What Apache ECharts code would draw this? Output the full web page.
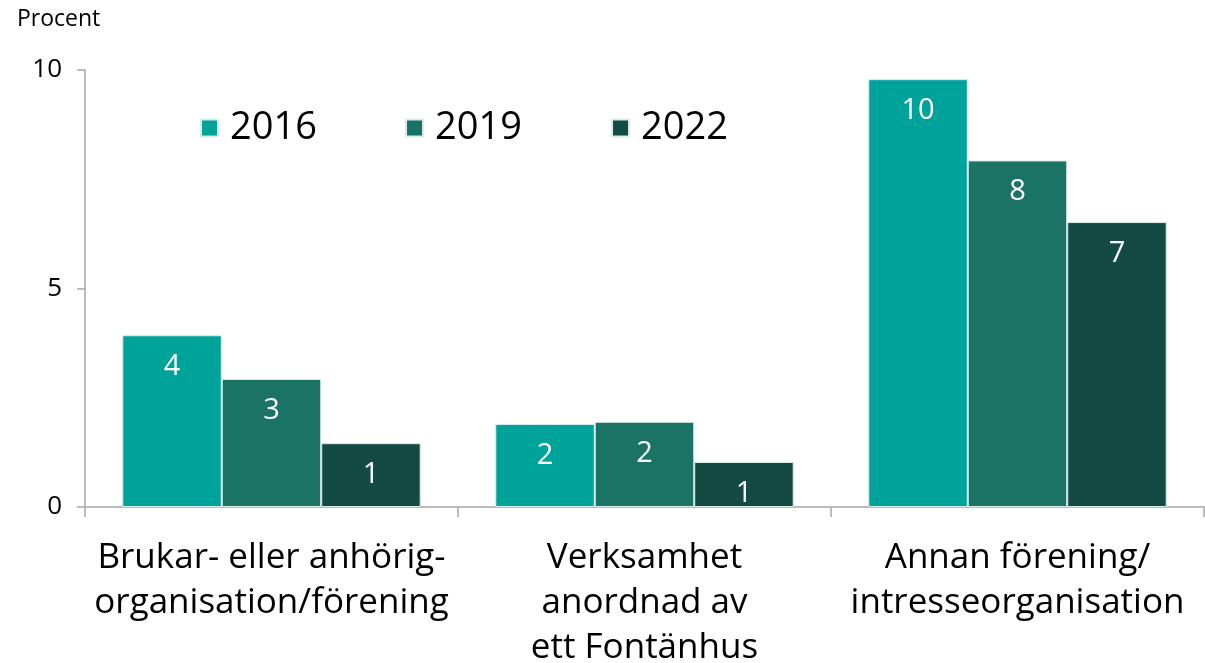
<!DOCTYPE html>
<html>
<head>
<meta charset="utf-8">
<script src="https://cdn.jsdelivr.net/npm/echarts@6/dist/echarts.min.js"></script>
<style>
html,body{margin:0;padding:0;background:#fff;}
#chart{width:1205px;height:663px;}
</style>
</head>
<body>
<div id="chart"></div>
<script>
const categories = ['Brukar- eller anhörig-\norganisation/förening', 'Verksamhet\nanordnad av\nett Fontänhus', 'Annan förening/\nintresseorganisation'];
const seriesNames = ['2016', '2019', '2022'];
const values2016 = [3.93, 1.90, 9.79];
const values2019 = [2.93, 1.95, 7.93];
const values2022 = [1.46, 1.03, 6.52];
const yTicks = [0, 5, 10];
const colors = ['#00A39A', '#1B7366', '#134B44'];
const FONT = '"Open Sans", "Liberation Sans", Arial, sans-serif';

const chart = echarts.init(document.getElementById('chart'));
const allValues = [values2016, values2019, values2022];
const legendLefts = [195, 400, 606];
chart.setOption({
  animation: false,
  textStyle: {fontFamily: FONT},
  graphic: [{
    type: 'text', left: 17, top: 8,
    style: {text: 'Procent', font: '23px ' + FONT, fill: '#000'}
  }],
  legend: seriesNames.map((n, i) => ({
    left: legendLefts[i], top: 104,
    itemWidth: 17, itemHeight: 17,
    icon: 'rect',
    textStyle: {fontSize: 38, color: '#000', fontFamily: FONT, padding: [0, 0, 0, 7]},
    data: [n]
  })),
  grid: {left: 85, right: 1, top: 70, bottom: 156, containLabel: false, outerBoundsMode: 'none'},
  xAxis: {
    type: 'category',
    data: categories,
    axisLine: {lineStyle: {color: '#A6A6A6', width: 1.5}},
    axisTick: {show: true, length: 10, lineStyle: {color: '#A6A6A6', width: 1.5}},
    axisLabel: {fontSize: 35, color: '#000', lineHeight: 45, margin: 29, fontFamily: FONT, interval: 0}
  },
  yAxis: {
    type: 'value',
    min: yTicks[0], max: yTicks[yTicks.length - 1], interval: 5,
    splitLine: {show: false},
    axisLine: {show: true, lineStyle: {color: '#A6A6A6', width: 1.5}},
    axisTick: {show: true, length: 8, lineStyle: {color: '#A6A6A6', width: 1.5}},
    axisLabel: {fontSize: 26, color: '#000', margin: 23, fontFamily: FONT}
  },
  series: seriesNames.map((name, i) => ({
    name: name,
    type: 'bar',
    data: allValues[i],
    barGap: '0%',
    barCategoryGap: '20%',
    itemStyle: {color: colors[i], borderColor: '#D8ECEA', borderWidth: 1},
    label: {
      show: true, position: 'insideTop', distance: 17,
      color: '#fff', fontSize: 29, fontFamily: FONT,
      formatter: p => Math.round(p.value)
    }
  }))
});
</script>
</body>
</html>
